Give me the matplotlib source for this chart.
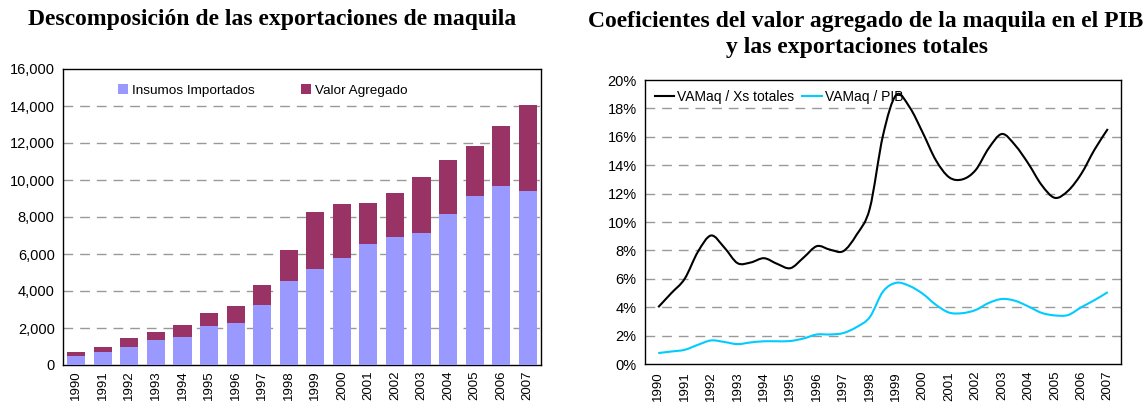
import numpy as np
import matplotlib
matplotlib.use("Agg")
from matplotlib import pyplot as plt
from matplotlib.path import Path
from matplotlib.patches import PathPatch
from matplotlib.lines import Line2D
from matplotlib.ticker import FuncFormatter

years = [str(y) for y in range(1990, 2008)]

# millones de dolares
insumos = [490, 700, 975, 1355, 1515, 2110, 2275, 3250, 4550, 5200,
           5800, 6550, 6930, 7150, 8180, 9150, 9690, 9420]
totales = [700, 975, 1460, 1790, 2165, 2815, 3195, 4330, 6230, 8285,
           8720, 8770, 9315, 10180, 11100, 11860, 12940, 14080]
valor_agregado = [t - i for t, i in zip(totales, insumos)]

# coeficientes, datos semestrales (1990.0, 1990.5, ... 2007.0), en %
periodos = np.arange(0, 17.01, 0.5)
va_xs = [4.0, 5.0, 6.0, 7.9, 9.05, 8.2, 7.1, 7.15, 7.45, 7.05,
         6.75, 7.5, 8.3, 8.05, 7.95, 9.1, 10.95, 16.1, 18.95, 18.1,
         16.3, 14.35, 13.15, 13.0, 13.65, 15.2, 16.2, 15.4, 14.1, 12.6,
         11.7, 12.2, 13.4, 15.1, 16.55]
va_pib = [0.77, 0.88, 1.0, 1.35, 1.66, 1.55, 1.4, 1.52, 1.6, 1.6,
          1.62, 1.8, 2.08, 2.08, 2.18, 2.6, 3.3, 5.1, 5.72, 5.5,
          4.95, 4.17, 3.62, 3.58, 3.8, 4.3, 4.58, 4.45, 4.05, 3.6,
          3.42, 3.45, 4.0, 4.5, 5.06]

c_insumos = "#9999FF"
c_va = "#993366"
c_xs = "black"
c_pib = "#00CCFF"
grid_kw = dict(color="#999999", linestyle=(0, (7, 5)), linewidth=1.0)

plt.rcParams["font.family"] = ["Liberation Sans", "DejaVu Sans"]
plt.rcParams["font.size"] = 10.5
title_font = ["Liberation Serif", "DejaVu Serif"]


def smooth_path(x, y):
    # curva suavizada tipo Excel (Catmull-Rom -> Bezier)
    pts = np.column_stack([x, y])
    n = len(pts)
    verts = [pts[0]]
    codes = [Path.MOVETO]
    for i in range(n - 1):
        p0 = pts[max(i - 1, 0)]
        p1 = pts[i]
        p2 = pts[i + 1]
        p3 = pts[min(i + 2, n - 1)]
        verts += [p1 + (p2 - p0) / 6.0, p2 - (p3 - p1) / 6.0, p2]
        codes += [Path.CURVE4] * 3
    return Path(verts, codes)


fig = plt.figure(figsize=(11.47, 4.04), dpi=100)

# ---- izquierda: barras apiladas
ax1 = fig.add_axes([63 / 1147, 39 / 404, 478 / 1147, 296 / 404])
xpos = np.arange(len(years))
ax1.bar(xpos, insumos, width=0.68, color=c_insumos, label="Insumos Importados", zorder=3)
ax1.bar(xpos, valor_agregado, width=0.68, bottom=insumos, color=c_va,
        label="Valor Agregado", zorder=3)
ax1.set_xlim(-0.5, len(years) - 0.5)
ax1.set_ylim(0, 16000)
ax1.set_yticks(np.arange(0, 16001, 2000))
ax1.yaxis.set_major_formatter(FuncFormatter(lambda v, p: f"{int(v):,}"))
for v in range(2000, 16000, 2000):
    ax1.axhline(v, zorder=1, **grid_kw)
ax1.set_xticks(xpos)
ax1.set_xticklabels(years, rotation=90, fontsize=9.5)
ax1.tick_params(axis="both", length=0, pad=6)
ax1.tick_params(axis="x", pad=4)
for s in ax1.spines.values():
    s.set_linewidth(1.0)
ax1.legend(loc="upper left", bbox_to_anchor=(0.09, 0.99), ncol=2, frameon=False,
           handlelength=0.75, handleheight=0.75, handletextpad=0.3, columnspacing=3.4,
           fontsize=9.7)

fig.text(272 / 1147, 1 - 20 / 404, "Descomposición de las exportaciones de maquila",
         ha="center", va="center", fontsize=17, fontweight="bold", family=title_font)

# ---- derecha: coeficientes
ax2 = fig.add_axes([645 / 1147, 40 / 404, 476 / 1147, 284 / 404])
ax2.add_patch(PathPatch(smooth_path(periodos, va_xs), facecolor="none",
                        edgecolor=c_xs, linewidth=1.5, zorder=3))
ax2.add_patch(PathPatch(smooth_path(periodos, va_pib), facecolor="none",
                        edgecolor=c_pib, linewidth=1.5, zorder=3))
ax2.set_xlim(-0.5, len(years) - 0.5)
ax2.set_ylim(0, 20)
ax2.set_yticks(np.arange(0, 21, 2))
ax2.yaxis.set_major_formatter(FuncFormatter(lambda v, p: f"{int(v)}%"))
for v in range(2, 20, 2):
    ax2.axhline(v, zorder=1, **grid_kw)
ax2.set_xticks(xpos)
ax2.set_xticklabels(years, rotation=90, fontsize=9.5)
ax2.tick_params(axis="both", length=0, pad=6)
ax2.tick_params(axis="x", pad=5)
for s in ax2.spines.values():
    s.set_linewidth(1.0)
handles = [Line2D([], [], color=c_xs, linewidth=1.5),
           Line2D([], [], color=c_pib, linewidth=1.5)]
ax2.legend(handles, ["VAMaq / Xs totales", "VAMaq / PIB"], loc="upper left",
           bbox_to_anchor=(0.0, 1.0), ncol=2, frameon=False, handlelength=1.4,
           handletextpad=0.2, columnspacing=0.6, fontsize=10, borderaxespad=0.3)

fig.text(866 / 1147, 1 - 21 / 404,
         "Coeficientes del valor agregado de la maquila en el PIB",
         ha="center", va="center", fontsize=17, fontweight="bold", family=title_font)
fig.text(857 / 1147, 1 - 47 / 404, "y las exportaciones totales",
         ha="center", va="center", fontsize=17, fontweight="bold", family=title_font)

fig.savefig("out.png", dpi=100)
